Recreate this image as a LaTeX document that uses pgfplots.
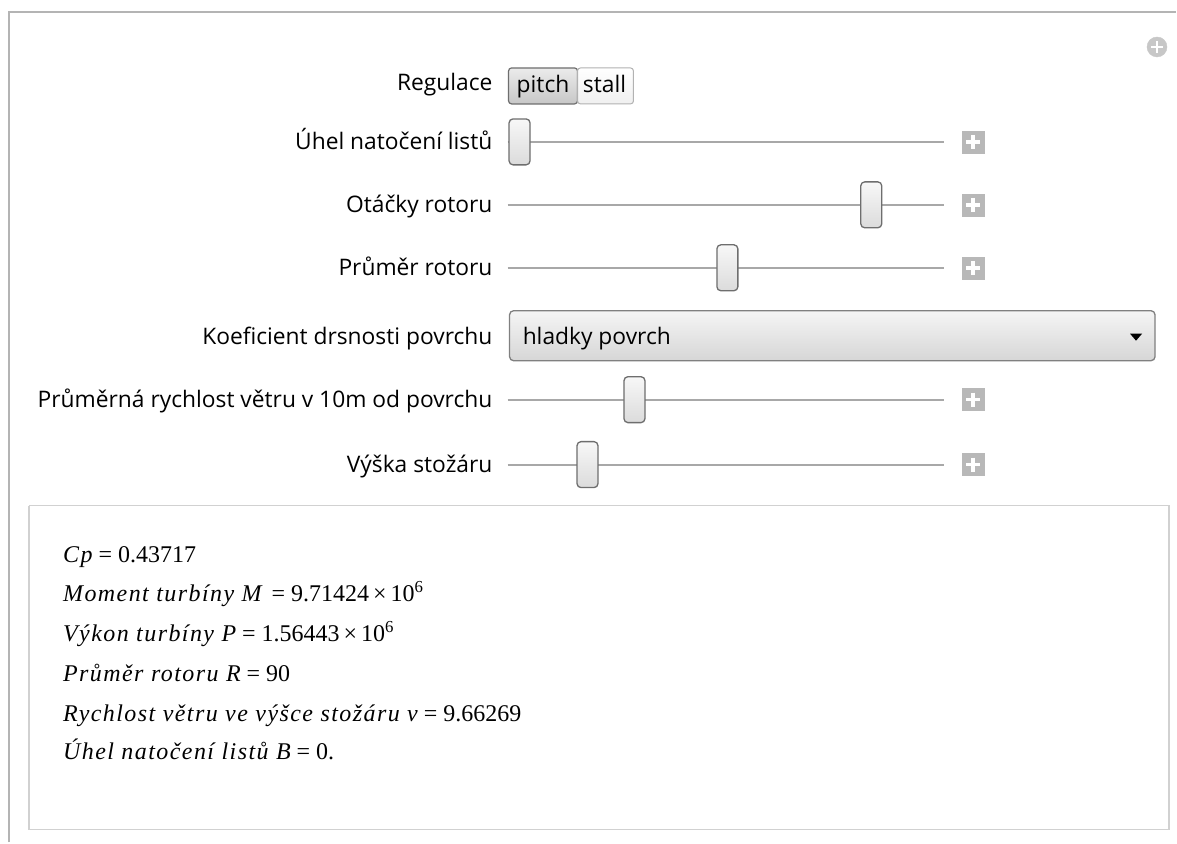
\documentclass[border=0pt]{standalone}
\usepackage{pgfplots}
\usepackage{pgfplotstable}
\pgfplotsset{compat=1.18}
\usepackage{fontspec}
\setmainfont{Open Sans}
\newfontfamily\serif[ItalicFeatures={LetterSpace=6}]{Liberation Serif}
\definecolor{frame}{HTML}{B4B4B4}
\definecolor{track}{HTML}{A8A8A8}
\definecolor{plusbox}{HTML}{B8B8B8}
\definecolor{thumbedge}{HTML}{6E6E6E}
\pgfplotstableread{
y thumb plus
142 520 974
205 872 974
268 728 974
400 635 974
465 588 974
}\sliders
\begin{document}
\begin{tikzpicture}
\tikzset{uilab/.style={anchor=base east, inner sep=0pt, font=\fontsize{22.8}{27}\selectfont, text=black},
outtxt/.style={anchor=base west, inner sep=0pt, font=\serif\fontsize{24}{28}\selectfont, text=black}}
\begin{axis}[scale only axis, width=1177pt, height=843pt,
  xmin=0, xmax=1177, ymin=0, ymax=843, y dir=reverse, hide axis, clip=false]
\fill[white] (axis cs:0,0) rectangle (axis cs:1177,843);
% outer frame
\addplot[frame, line width=2pt] coordinates {(9,843) (9,12) (1177,12)};
% output box
\addplot[color=black!18, line width=1.5pt] coordinates {(29,506) (1170,506) (1170,830) (29,830) (29,506)};
% add circle
\addplot[only marks, mark=*, mark size=10pt, color=black!22] coordinates {(1158,47)};
\addplot[only marks, mark=+, mark size=6pt, line width=2.5pt, color=white] coordinates {(1158,47)};
% buttons
\draw[rounded corners=3pt, draw=thumbedge, line width=1.2pt, top color=black!8, bottom color=black!22] (axis cs:509,68) rectangle (axis cs:578,104);
\draw[rounded corners=3pt, draw=black!30, line width=1pt, top color=white, bottom color=black!6] (axis cs:578,68) rectangle (axis cs:634,104);
\node[anchor=base, inner sep=0pt, font=\fontsize{22.8}{27}\selectfont] at (axis cs:543.5,93) {pitch};
\node[anchor=base, inner sep=0pt, font=\fontsize{22.8}{27}\selectfont] at (axis cs:605,93) {stall};
% slider tracks
\addplot[track, line width=2pt] coordinates {(508,142) (945,142)};
\addplot[track, line width=2pt] coordinates {(508,205) (945,205)};
\addplot[track, line width=2pt] coordinates {(508,268) (945,268)};
\addplot[track, line width=2pt] coordinates {(508,400) (945,400)};
\addplot[track, line width=2pt] coordinates {(508,465) (945,465)};
% thumbs
\addplot[draw=none, mark=none, nodes near coords={}, every node near coord/.append style={anchor=center, draw=thumbedge, line width=1.3pt, rounded corners=4pt, minimum width=21pt, minimum height=46pt, inner sep=0pt, top color=black!3, bottom color=black!14}] table[x=thumb, y=y] {\sliders};
% plus boxes
\addplot[only marks, mark=square*, mark size=11pt, color=plusbox] table[x=plus, y=y] {\sliders};
\addplot[only marks, mark=+, mark size=7pt, line width=3.5pt, color=white] table[x=plus, y=y] {\sliders};
% dropdown
\draw[rounded corners=4pt, draw=black!50, line width=1.3pt, top color=black!4, bottom color=black!16] (axis cs:510,311) rectangle (axis cs:1156,361);
\node[anchor=base west, inner sep=0pt, font=\fontsize{22.8}{27}\selectfont] at (axis cs:523,345) {hladky povrch};
\fill[black] (axis cs:1131,334) -- (axis cs:1143,334) -- (axis cs:1137,341) -- cycle;
% labels
\node[uilab] at (axis cs:493,91) {Regulace};
\node[uilab] at (axis cs:493,150) {Úhel natočení listů};
\node[uilab] at (axis cs:493,213) {Otáčky rotoru};
\node[uilab] at (axis cs:493,276) {Průměr rotoru};
\node[uilab] at (axis cs:493,345) {Koeficient drsnosti povrchu};
\node[uilab] at (axis cs:493,408) {Průměrná rychlost větru v 10m od povrchu};
\node[uilab] at (axis cs:493,473) {Výška stožáru};
% output
\node[outtxt] at (axis cs:63,563) {\itshape Cp\upshape{} = 0.43717};
\node[outtxt] at (axis cs:63,602) {\itshape Moment turbíny M\upshape{}\, = 9.71424\,×\,10\textsuperscript{6}};
\node[outtxt] at (axis cs:63,642) {\itshape Výkon turbíny P\upshape{} = 1.56443\,×\,10\textsuperscript{6}};
\node[outtxt] at (axis cs:63,682) {\itshape Průměr rotoru R\upshape{} = 90};
\node[outtxt] at (axis cs:63,722) {\itshape Rychlost větru ve výšce stožáru v\upshape{} = 9.66269};
\node[outtxt] at (axis cs:63,760) {\itshape Úhel natočení listů B\upshape{} = 0.};
\end{axis}
\end{tikzpicture}
\end{document}
